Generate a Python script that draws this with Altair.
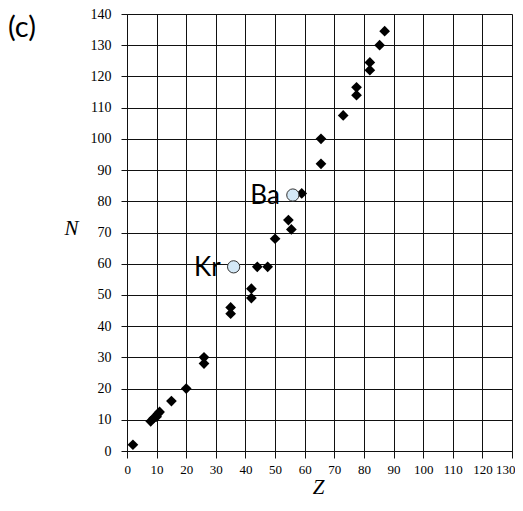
import altair as alt
import pandas as pd

# Stable nuclei (black diamonds)
Z_vals = [2, 8, 9, 10, 10.5, 11, 15, 20, 26, 26, 35, 35, 42, 42, 44, 47.5, 50,
          54.5, 55.5, 59, 65.5, 65.5, 73, 77.5, 77.5, 82, 82, 85.3, 87]
N_vals = [2, 9.5, 10.5, 11, 12, 12.5, 16, 20, 30, 28, 46, 44, 52, 49, 59, 59, 68,
          74, 71, 82.5, 92, 100, 107.5, 116.5, 114, 124.5, 122, 130, 134.5]

# Fission fragments (light blue circles)
frag_names = ["Kr", "Ba"]
frag_Z = [36, 56]
frag_N = [59, 82]

x_ticks = list(range(0, 131, 10))
y_ticks = list(range(0, 141, 10))

df = pd.DataFrame({"Z": Z_vals, "N": N_vals})
frag = pd.DataFrame({"name": frag_names, "Z": frag_Z, "N": frag_N})

xs = alt.Scale(domain=[0, 130], nice=False, zero=False)
ys = alt.Scale(domain=[0, 140], nice=False, zero=False)

x_axis = alt.Axis(
    values=x_ticks, tickCount=14, title="Z", grid=True, gridColor="#111", gridWidth=1,
    gridOpacity=1, domainColor="#111", tickColor="#111", tickSize=7,
    labelFont="Liberation Serif", labelFontSize=13, labelColor="black",
    labelPadding=5, labelFlush=True, labelFlushOffset=3, labelOverlap=False,
    titleFont="Liberation Serif", titleFontStyle="italic", titleFontWeight="normal",
    titleFontSize=21, titleColor="black", titleX=191, titleY=42,
    titleBaseline="alphabetic", titleAlign="center",
)
y_axis = alt.Axis(
    values=y_ticks, tickCount=15, title="N", grid=True, gridColor="#111", gridWidth=1,
    gridOpacity=1, domainColor="#111", tickColor="#111", tickSize=6,
    labelFont="Liberation Serif", labelFontSize=14, labelColor="black",
    labelPadding=10, labelFlush=False, labelOverlap=False,
    titleFont="Liberation Serif", titleFontStyle="italic", titleFontWeight="normal",
    titleFontSize=21, titleColor="black", titleAngle=0, titleX=-56, titleY=220,
    titleBaseline="alphabetic", titleAlign="center",
)

X = alt.X("Z:Q", scale=xs, axis=x_axis)
Y = alt.Y("N:Q", scale=ys, axis=y_axis)

points = alt.Chart(df).mark_point(
    shape="diamond", filled=True, size=115, color="black", opacity=1
).encode(x=X, y=Y)

circles = alt.Chart(frag).mark_point(
    shape="circle", filled=True, fill="#d4e8f6", stroke="#333333",
    strokeWidth=1, size=150, opacity=1
).encode(x=X, y=Y)

labels = alt.Chart(frag).mark_text(
    align="right", baseline="alphabetic", dx=-13, dy=9,
    font="Lato", fontSize=26, color="black"
).encode(x=X, y=Y, text="name:N")

panel = alt.Chart(pd.DataFrame({"t": ["(c)"]})).mark_text(
    align="left", baseline="alphabetic", font="Lato", fontSize=29, color="black"
).encode(x=alt.value(-119), y=alt.value(23), text="t:N")

chart = alt.layer(points, circles, labels, panel).properties(
    width=385, height=437,
    autosize=alt.AutoSizeParams(type="none"),
    padding={"left": 119, "top": 6, "right": 3, "bottom": 47},
).configure_view(stroke="#111", strokeWidth=1).configure(background="white")

chart.save("out.html", embed_options={"renderer": "svg", "actions": False})
